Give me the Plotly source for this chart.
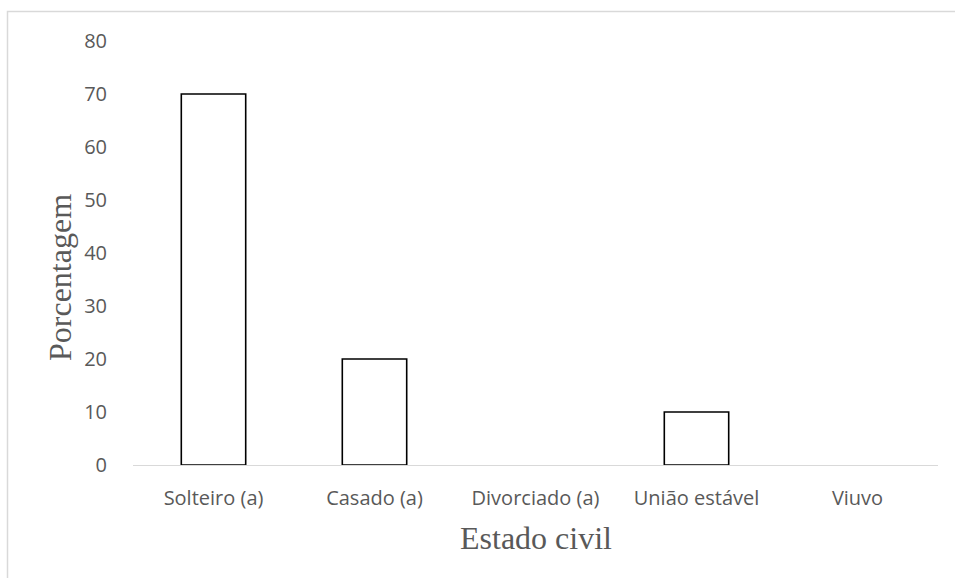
import plotly.graph_objects as go

# Distribuição por estado civil (%)
categorias = ["Solteiro (a)", "Casado (a)", "Divorciado (a)", "União estável", "Viuvo"]
porcentagens = [70, 20, 0, 10, 0]
y_ticks = [0, 10, 20, 30, 40, 50, 60, 70, 80]

W, H = 955, 578
L, R, T, B = 133, 17, 41, 113
pw, ph = W - L - R, H - T - B

# empty categories get no outline so only the axis line shows there
contornos = [1.6 if v > 0 else 0 for v in porcentagens]

fig = go.Figure(
    go.Bar(
        x=categorias,
        y=porcentagens,
        marker=dict(color="white", line=dict(color="black", width=contornos)),
        width=0.4,
    )
)

tick_font = dict(family="Open Sans, Liberation Sans, sans-serif", size=20, color="#595959")
title_font = dict(family="Liberation Serif, Times New Roman, serif", size=32, color="#595959")

fig.update_layout(
    width=W,
    height=H,
    margin=dict(l=L, r=R, t=T, b=B),
    paper_bgcolor="white",
    plot_bgcolor="white",
    showlegend=False,
    xaxis=dict(
        showline=True,
        linecolor="#d9d9d9",
        linewidth=1.3,
        showgrid=False,
        ticks="outside",
        ticklen=15,
        tickcolor="rgba(0,0,0,0)",
        tickfont=tick_font,
    ),
    yaxis=dict(
        range=[0, 80],
        tickvals=y_ticks,
        showline=False,
        showgrid=False,
        zeroline=False,
        ticks="outside",
        ticklen=21,
        tickcolor="rgba(0,0,0,0)",
        tickfont=tick_font,
    ),
    annotations=[
        dict(
            text="Estado civil",
            xref="paper", yref="paper",
            x=0.5, y=(H - 538 - B) / ph,
            xanchor="center", yanchor="middle",
            showarrow=False,
            font=title_font,
        ),
        dict(
            text="Porcentagem",
            xref="paper", yref="paper",
            x=(60 - L) / pw, y=(H - 278 - B) / ph,
            xanchor="center", yanchor="middle",
            textangle=-90,
            showarrow=False,
            font=title_font,
        ),
    ],
    shapes=[
        dict(
            type="rect",
            xref="paper", yref="paper",
            x0=(7.5 - L) / pw, x1=(W + 10 - L) / pw,
            y0=(H - (H + 10) - B) / ph, y1=(H - 11.5 - B) / ph,
            line=dict(color="#d9d9d9", width=1.5),
            fillcolor="rgba(0,0,0,0)",
            layer="below",
        )
    ],
)

fig.write_html("out.html")
